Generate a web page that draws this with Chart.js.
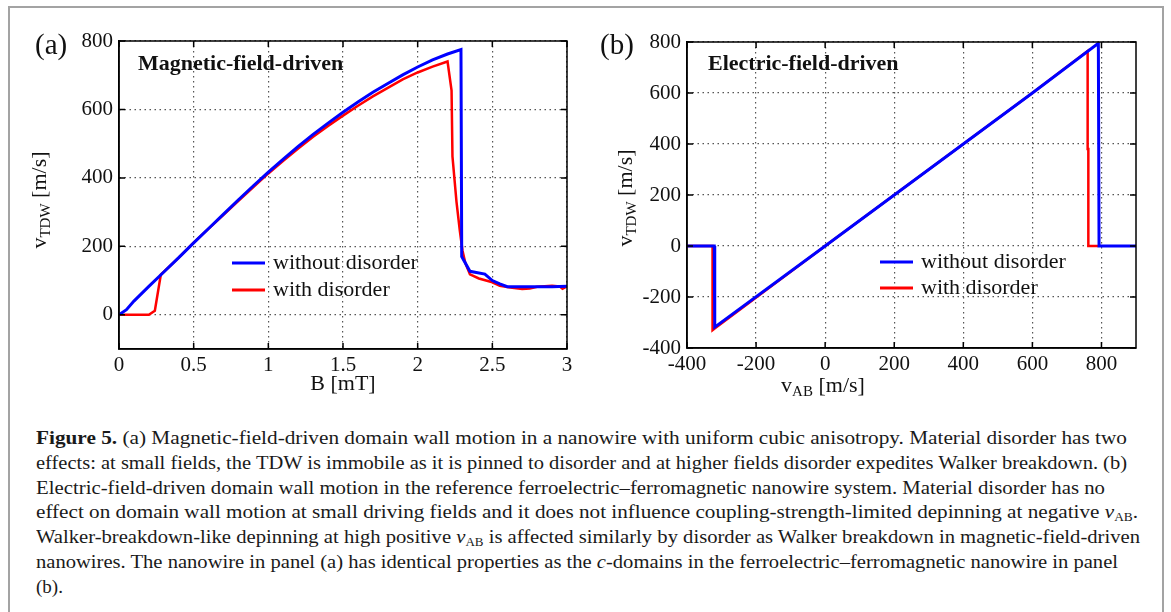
<!DOCTYPE html>
<html>
<head>
<meta charset="utf-8">
<script src="https://cdn.jsdelivr.net/npm/chart.js@4.4.1/dist/chart.umd.min.js"></script>
<style>
  html, body { margin: 0; padding: 0; background: #fff; width: 1171px; height: 612px; overflow: hidden; }
  #frame { position: absolute; left: 8px; top: 6px; width: 1156px; height: 660px; border: 2px solid #a3a3a3; box-sizing: border-box; }
  canvas { position: absolute; top: 0; }
  #chartA { left: 0; }
  #chartB { left: 590px; }
  #caption { position: absolute; left: 36px; top: 426px; font-family: "Liberation Serif", serif; font-size: 19px; line-height: 24.8px; color: #1a1a1a; white-space: nowrap; }
  #caption span { display: inline-block; transform-origin: 0 50%; }
  #caption sub { font-size: 12px; vertical-align: -3px; line-height: 0; }
</style>
</head>
<body>
<div id="frame"></div>
<canvas id="chartA" width="590" height="410"></canvas>
<canvas id="chartB" width="572" height="410"></canvas>
<div id="caption">
  <div><span><b>Figure 5.</b> (a) Magnetic-field-driven domain wall motion in a nanowire with uniform cubic anisotropy. Material disorder has two</span></div>
  <div><span>effects: at small fields, the TDW is immobile as it is pinned to disorder and at higher fields disorder expedites Walker breakdown. (b)</span></div>
  <div><span>Electric-field-driven domain wall motion in the reference ferroelectric–ferromagnetic nanowire system. Material disorder has no</span></div>
  <div><span>effect on domain wall motion at small driving fields and it does not influence coupling-strength-limited depinning at negative <i>v</i><sub>AB</sub>.</span></div>
  <div><span>Walker-breakdown-like depinning at high positive <i>v</i><sub>AB</sub> is affected similarly by disorder as Walker breakdown in magnetic-field-driven</span></div>
  <div><span>nanowires. The nanowire in panel (a) has identical properties as the <i>c</i>-domains in the ferroelectric–ferromagnetic nanowire in panel</span></div>
  <div><span>(b).</span></div>
</div>
<script>
// panel (a): magnetic field B [mT] vs wall velocity [m/s]
const bClean = [0, 0.05, 0.1, 0.2, 0.3, 0.4, 0.5, 0.6, 0.7, 0.8, 0.9, 1.0, 1.1, 1.2, 1.3, 1.4, 1.5, 1.6, 1.7, 1.8, 1.9, 2.0, 2.1, 2.2, 2.29, 2.295, 2.35, 2.45, 2.5, 2.55, 2.6, 2.7, 2.8, 2.9, 3.0];
const vClean = [0, 15, 40, 83, 125, 167, 210, 252, 294, 336, 377, 417, 455, 492, 527, 560, 592, 622, 650, 676, 701, 724, 745, 762, 775, 170, 127, 119, 100, 90, 82, 82, 82, 82, 83];
const bDisorder = [0, 0.2, 0.24, 0.28, 0.4, 0.5, 0.6, 0.7, 0.8, 0.9, 1.0, 1.1, 1.2, 1.3, 1.4, 1.5, 1.6, 1.7, 1.8, 1.9, 2.0, 2.1, 2.2, 2.227, 2.233, 2.26, 2.282, 2.3, 2.32, 2.35, 2.41, 2.5, 2.55, 2.62, 2.7, 2.75, 2.8, 2.9, 2.95, 2.97, 3.0];
const vDisorder = [0, 0, 12, 117, 167, 211, 252, 292, 333, 373, 413, 450, 486, 520, 552, 582, 611, 638, 663, 688, 708, 725, 740, 655, 463, 330, 247, 188, 150, 118, 106, 95, 85, 80, 75, 77, 82, 85, 83, 76, 83];
const xTicksA = [0, 0.5, 1, 1.5, 2, 2.5, 3];
const yTicksA = [0, 200, 400, 600, 800];

// panel (b): v_AB [m/s] vs wall velocity [m/s]
const vabClean = [-400, -321, -321, -319, -319, 0, 200, 400, 600, 791, 793, 900];
const vtdwClean = [0, 0, -160, -160, -318, 0, 200, 400, 600, 795, 0, 0];
const vabDisorder = [-400, -326, -326, -318, 0, 200, 400, 600, 760, 760, 762, 762, 790];
const vtdwDisorder = [0, 0, -330, -322, 0, 200, 400, 600, 765, 380, 380, 0, 0];
const xTicksB = [-400, -200, 0, 200, 400, 600, 800];
const yTicksB = [-400, -200, 0, 200, 400, 600, 800];

const seriesLabels = ["without disorder", "with disorder"];
const seriesColors = ["#0000ff", "#ff0000"];

const SERIF = '"Liberation Serif", "Times New Roman", serif';
const toPoints = (xs, ys) => xs.map((x, i) => ({ x: x, y: ys[i] }));

// draws text with subscript pieces centred on (x, y)
function drawParts(ctx, parts, x, y) {
  let w = 0;
  parts.forEach(p => { ctx.font = p.size + "px " + SERIF; w += ctx.measureText(p.t).width; });
  let cx = x - w / 2;
  ctx.textAlign = "left";
  ctx.textBaseline = "middle";
  parts.forEach(p => {
    ctx.font = p.size + "px " + SERIF;
    ctx.fillText(p.t, cx, y + (p.dy || 0));
    cx += ctx.measureText(p.t).width;
  });
}

const extras = {
  id: "extras",
  afterDraw(chart, args, o) {
    const { ctx, chartArea: a } = chart;
    const xs = chart.scales.x, ys = chart.scales.y;
    ctx.save();
    // box and inward ticks
    ctx.strokeStyle = "#000";
    ctx.lineWidth = 1.5;
    ctx.strokeRect(a.left, a.top, a.right - a.left, a.bottom - a.top);
    ctx.beginPath();
    xs.ticks.forEach(t => {
      const px = xs.getPixelForValue(t.value);
      ctx.moveTo(px, a.bottom); ctx.lineTo(px, a.bottom - 6);
      ctx.moveTo(px, a.top); ctx.lineTo(px, a.top + 6);
    });
    ys.ticks.forEach(t => {
      const py = ys.getPixelForValue(t.value);
      ctx.moveTo(a.left, py); ctx.lineTo(a.left + 6, py);
      ctx.moveTo(a.right, py); ctx.lineTo(a.right - 6, py);
    });
    ctx.stroke();

    ctx.fillStyle = "#111";
    // panel letter
    ctx.font = "29px " + SERIF;
    ctx.textAlign = "left";
    ctx.textBaseline = "middle";
    ctx.fillText(o.letter, o.letterX, o.letterY);
    // panel title
    ctx.font = "bold 22px " + SERIF;
    ctx.fillText(o.title, o.titleX, o.titleY);

    // legend
    chart.data.datasets.forEach((ds, i) => {
      const ly = o.legendY + i * o.legendGap;
      ctx.strokeStyle = ds.borderColor;
      ctx.lineWidth = 3;
      ctx.beginPath();
      ctx.moveTo(o.legendX, ly);
      ctx.lineTo(o.legendX + 33, ly);
      ctx.stroke();
      ctx.font = "22px " + SERIF;
      ctx.fillText(ds.label, o.legendX + 41, ly);
    });

    // axis titles
    drawParts(ctx, o.xTitle, o.xTitleX, o.xTitleY);
    ctx.translate(o.yTitleX, o.yTitleY);
    ctx.rotate(-Math.PI / 2);
    drawParts(ctx, o.yTitle, 0, 0);
    ctx.restore();
  }
};

const vTitle = [{ t: "v", size: 22 }, { t: "TDW", size: 15, dy: 6 }, { t: " [m/s]", size: 22 }];

function makeChart(id, sets, xr, yr, xTicks, yTicks, pad, extraOpts) {
  const axisCommon = (min, max, ticks) => ({
    type: "linear",
    min: min,
    max: max,
    afterBuildTicks: s => { s.ticks = ticks.map(v => ({ value: v })); },
    grid: { color: "#555", lineWidth: 1.2, drawTicks: false },
    border: { display: true, color: "#000", width: 1.5, dash: [1.5, 3.5] },
    ticks: { color: "#111", font: { family: SERIF, size: 21 }, callback: v => String(v) }
  });
  const x = axisCommon(xr[0], xr[1], xTicks);
  x.ticks.padding = 4;
  x.afterFit = s => { s.height = 50; };
  const y = axisCommon(yr[0], yr[1], yTicks);
  y.ticks.padding = 6;
  y.afterFit = s => { s.width = 60; };

  return new Chart(document.getElementById(id), {
    type: "line",
    data: {
      datasets: sets.map((s, i) => ({
        label: seriesLabels[i],
        data: toPoints(s[0], s[1]),
        borderColor: seriesColors[i],
        borderWidth: i === 0 ? 3 : 2.5,
        pointRadius: 0,
        tension: 0,
        fill: false
      }))
    },
    options: {
      responsive: false,
      devicePixelRatio: 1,
      animation: false,
      layout: { padding: pad },
      scales: { x: x, y: y },
      plugins: { legend: { display: false }, tooltip: { enabled: false }, extras: extraOpts }
    },
    plugins: [extras]
  });
}

makeChart("chartA",
  [[bClean, vClean], [bDisorder, vDisorder]],
  [0, 3], [-100, 800], xTicksA, yTicksA,
  { left: 59, right: 23, top: 41, bottom: 11 },
  {
    letter: "(a)", letterX: 35, letterY: 46,
    title: "Magnetic-field-driven", titleX: 138, titleY: 64,
    legendX: 232, legendY: 263, legendGap: 27,
    xTitle: [{ t: "B [mT]", size: 22 }], xTitleX: 343, xTitleY: 384,
    yTitle: vTitle, yTitleX: 40, yTitleY: 200
  });

makeChart("chartB",
  [[vabClean, vtdwClean], [vabDisorder, vtdwDisorder]],
  [-400, 900], [-400, 800], xTicksB, yTicksB,
  { left: 37, right: 26, top: 42, bottom: 12 },
  {
    letter: "(b)", letterX: 10, letterY: 46,
    title: "Electric-field-driven", titleX: 118, titleY: 64,
    legendX: 290, legendY: 262, legendGap: 26,
    xTitle: [{ t: "v", size: 22 }, { t: "AB", size: 15, dy: 6 }, { t: " [m/s]", size: 22 }], xTitleX: 233, xTitleY: 386,
    yTitle: vTitle, yTitleX: 36, yTitleY: 198
  });

// fit each caption line to where it ends in the figure
const lineEnds = [1127, 1127, 1105, 1138, 1140, 1118];
document.querySelectorAll("#caption span").forEach((sp, i) => {
  if (i >= lineEnds.length) return;
  const w = sp.getBoundingClientRect().width;
  sp.style.transform = "scaleX(" + ((lineEnds[i] - 36) / w) + ")";
});
</script>
</body>
</html>
